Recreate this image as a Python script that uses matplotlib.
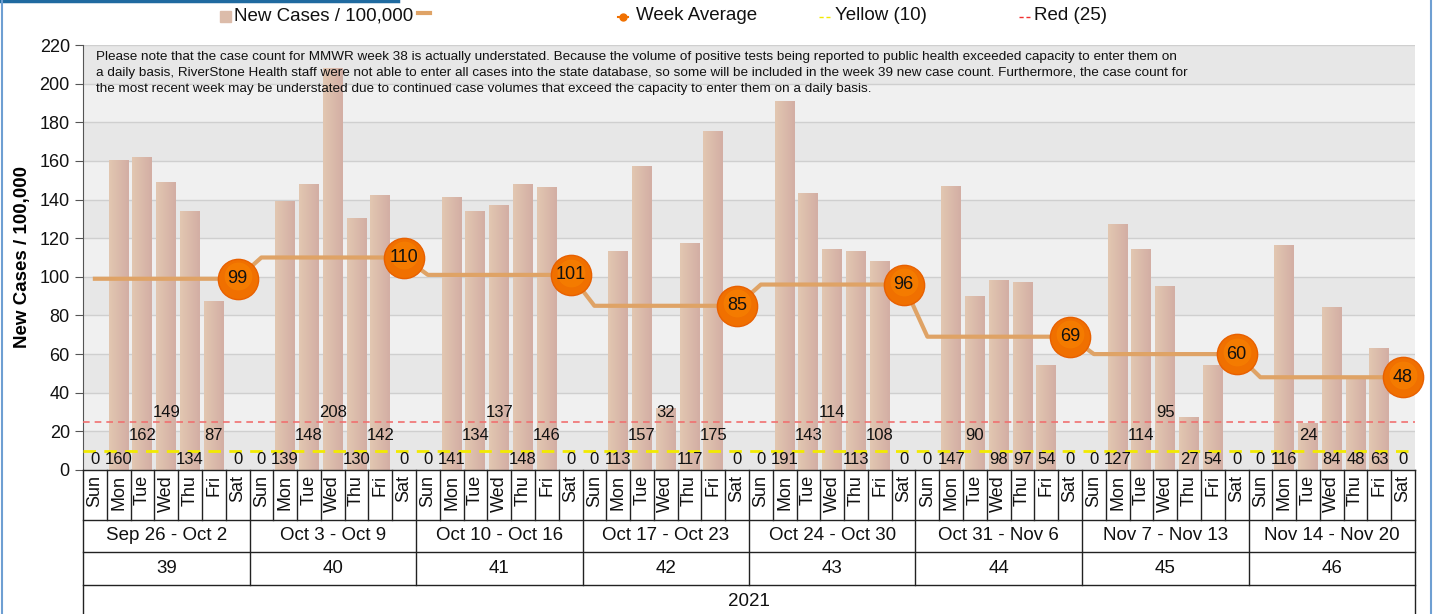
import numpy as np
import matplotlib
matplotlib.use("Agg")
import matplotlib.pyplot as plt
from matplotlib.lines import Line2D
from matplotlib.patches import Rectangle

plt.rcParams['font.family'] = ['Liberation Sans', 'DejaVu Sans']

# data
days = ["Sun", "Mon", "Tue", "Wed", "Thu", "Fri", "Sat"]
week_ranges = ["Sep 26 - Oct 2", "Oct 3 - Oct 9", "Oct 10 - Oct 16", "Oct 17 - Oct 23",
               "Oct 24 - Oct 30", "Oct 31 - Nov 6", "Nov 7 - Nov 13", "Nov 14 - Nov 20"]
week_nums = ["39", "40", "41", "42", "43", "44", "45", "46"]
year = "2021"
cases = [
    0, 160, 162, 149, 134, 87, 0,
    0, 139, 148, 208, 130, 142, 0,
    0, 141, 134, 137, 148, 146, 0,
    0, 113, 157, 32, 117, 175, 0,
    0, 191, 143, 114, 113, 108, 0,
    0, 147, 90, 98, 97, 54, 0,
    0, 127, 114, 95, 27, 54, 0,
    0, 116, 24, 84, 48, 63, 0,
]
week_avg = [99, 110, 101, 85, 96, 69, 60, 48]
yellow_level = 10
red_level = 25
note = ("Please note that the case count for MMWR week 38 is actually understated. Because the volume of positive tests "
        "being reported to public health exceeded capacity to enter them on\n"
        "a daily basis, RiverStone Health staff were not able to enter all cases into the state database, so some will "
        "be included in the week 39 new case count. Furthermore, the case count for\n"
        "the most recent week may be understated due to continued case volumes that exceed the capacity to enter them "
        "on a daily basis.")

W, H = 1433, 614
fig = plt.figure(figsize=(W / 100, H / 100), dpi=100)

def px(x, y):
    return x / W, 1 - y / H

x = np.arange(len(cases))
n = len(cases)

ax = fig.add_axes([83 / W, 144 / H, 1332 / W, 425 / H])
ax.set_xlim(-0.5, n - 0.5)
ax.set_ylim(0, 220)

# alternating bands
for i, lo in enumerate(range(0, 220, 20)):
    ax.axhspan(lo, lo + 20, color="#e7e7e7" if i % 2 == 0 else "#f0f0f0", zorder=0, lw=0)
for v in range(20, 221, 20):
    ax.axhline(v, color="#cfcfcf", lw=1, zorder=0.5)

bars = ax.bar(x, cases, width=0.84, color="#dcbcaa", zorder=2)
grad = np.linspace(0, 1, 32).reshape(1, -1)
cmap = matplotlib.colors.LinearSegmentedColormap.from_list("bar", ["#e2c7b1", "#d3aea4"])
for b in bars:
    if b.get_height() > 0:
        ax.imshow(grad, cmap=cmap, aspect="auto", zorder=2.1,
                  extent=(b.get_x(), b.get_x() + b.get_width(), 0, b.get_height()))
ax.set_xlim(-0.5, n - 0.5)
ax.set_ylim(0, 220)

ax.axhline(yellow_level, color="#f2ea00", lw=2, ls=(0, (4.5, 3)), zorder=3)
ax.axhline(red_level, color="#f07070", lw=1.2, ls=(0, (4, 3)), zorder=3)

# value labels: bumped up one row when they collide with the previous one
lab_fs = 12
day_px = 1332 / n
rows_y = [5.2, 17.6, 30]
prev = None
row = 0
for i, v in enumerate(cases):
    s = str(v)
    half = len(s) * 0.556 * lab_fs * 100 / 72 / 2
    if prev is not None and (prev + half + 2) > day_px:
        row = (row + 1) % 3
    else:
        row = 0
    prev = half
    ax.text(i, rows_y[row], s, ha="center", va="center", fontsize=lab_fs, color="#111111", zorder=4)

# week average line
avg_daily = np.repeat(week_avg, 7)
ax.plot(x, avg_daily, color="#dfa366", lw=3, zorder=5, clip_on=False)
sat_idx = np.arange(6, n, 7)
ax.plot(sat_idx, np.array(week_avg), ls="none", marker="o", ms=29, color="#f07000",
        mec="#e86000", mew=1, zorder=6, clip_on=False)
ax.plot(sat_idx, np.array(week_avg) + 1.2, ls="none", marker="o", ms=20, color="#f88400",
        mew=0, alpha=0.6, zorder=6.1, clip_on=False)
for xi, v in zip(sat_idx, week_avg):
    ax.text(xi, v, str(v), ha="center", va="center", fontsize=13, color="#111111", zorder=7)

ax.text(0.01, 0.985, note, transform=ax.transAxes, ha="left", va="top", fontsize=9.7,
        color="#111111", linespacing=1.42, zorder=8)

ax.set_xticks([])
ax.set_yticks(range(0, 221, 20))
ax.tick_params(axis="y", length=6, color="#555555", labelsize=13, labelcolor="#111111")
for s in ["top", "right", "bottom"]:
    ax.spines[s].set_visible(False)
ax.spines["left"].set_color("#555555")
ax.set_ylabel("New Cases / 100,000", fontsize=13.5, fontweight="bold", labelpad=6)

# category table under the axis
tab = fig.add_axes([83 / W, 0, 1332 / W, 144 / H])
tab.set_xlim(-0.5, n - 0.5)
tab.set_ylim(144, 0)
tab.axis("off")
lc = "#222222"
for yy in [0, 50, 82, 115]:
    tab.plot([-0.5, n - 0.5], [yy, yy], color=lc, lw=1, clip_on=False)
for k in range(1, n):
    top = 115 if k % 7 == 0 else 50
    tab.plot([k - 0.5, k - 0.5], [0, top], color=lc, lw=1, clip_on=False)
for xe in [-0.5, n - 0.5]:
    tab.plot([xe, xe], [0, 144], color=lc, lw=1, clip_on=False)
for i in range(n):
    tab.text(i, 5, days[i % 7], rotation=90, ha="center", va="top", fontsize=13, color="#111111")
for w in range(len(week_ranges)):
    tab.text(7 * w + 3, 66, week_ranges[w], ha="center", va="center", fontsize=13.5, color="#111111")
    tab.text(7 * w + 3, 98.5, week_nums[w], ha="center", va="center", fontsize=13.5, color="#111111")
tab.text((n - 1) / 2, 131, year, ha="center", va="center", fontsize=13.5, color="#111111")

# legend drawn by hand
fig.add_artist(Rectangle(px(220, 22), 11 / W, 11 / H, color="#dcbcaa", transform=fig.transFigure))
fig.text(*px(234, 16), "New Cases / 100,000", fontsize=13.5, va="center", color="#111111")
fig.add_artist(Line2D([418 / W, 430 / W], [1 - 13 / H] * 2, color="#dfa366", lw=3))
fig.add_artist(Line2D([618 / W, 628 / W], [1 - 17 / H] * 2, color="#f07000", lw=1.5))
fig.add_artist(Line2D([623 / W], [1 - 17 / H], color="#f07000", marker="o", ms=5))
fig.text(*px(636, 16), "Week Average", fontsize=13.5, va="center", color="#111111")
fig.add_artist(Line2D([819 / W, 830 / W], [1 - 17 / H] * 2, color="#f2ea00", lw=1, ls=(0, (3, 2))))
fig.text(*px(835, 16), "Yellow (10)", fontsize=13.5, va="center", color="#111111")
fig.add_artist(Line2D([1019 / W, 1030 / W], [1 - 17 / H] * 2, color="#f03030", lw=1, ls=(0, (3, 2))))
fig.text(*px(1034, 16), "Red (25)", fontsize=13.5, va="center", color="#111111")

# frame lines of the page
fig.add_artist(Line2D([0, 398 / W], [1 - 1 / H] * 2, color="#1f6aa0", lw=2.5))
fig.add_artist(Line2D([2 / W] * 2, [0, 1], color="#6e9fd2", lw=1.5))
fig.add_artist(Line2D([1431 / W] * 2, [0, 1], color="#6e9fd2", lw=1.5))

fig.savefig("out.png", dpi=100)
